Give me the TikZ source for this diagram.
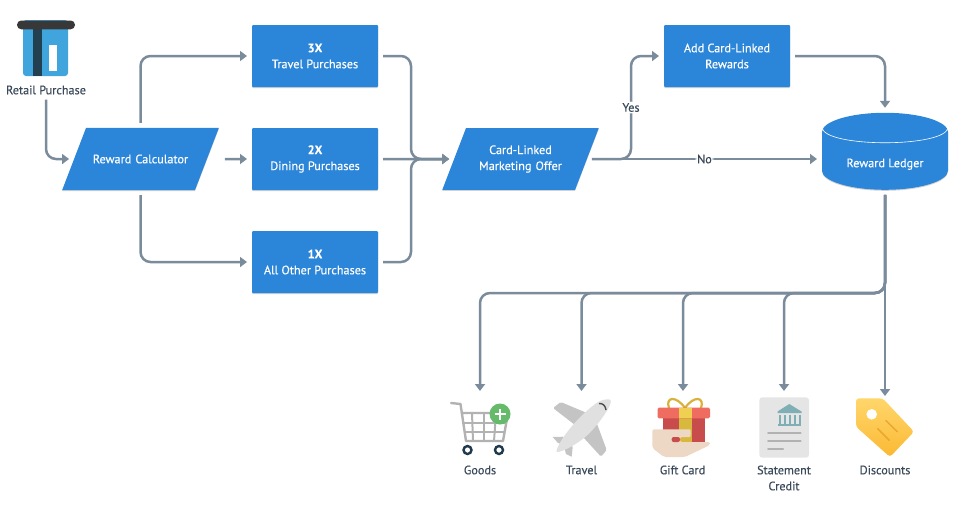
\documentclass[tikz,border=0pt]{standalone}
\usepackage{fontspec}
\setmainfont{PT Sans}[FakeBold=0.25]
\usetikzlibrary{%
  arrows.meta,%
  positioning,%
  shapes.geometric,%
  shadows
}
\definecolor{blockblue}{HTML}{2B85D8}
\definecolor{linkgray}{HTML}{7A8B9C}
\definecolor{inktext}{HTML}{3B4A5A}
\tikzset{
  softshadow/.style={drop shadow={shadow xshift=0pt,shadow yshift=-1pt,opacity=.18,fill=black}},
  block/.style={rectangle,fill=blockblue,text=white,minimum width=126pt,minimum height=62pt,
    inner sep=0pt,outer sep=0pt,align=center,rounded corners=1pt,font=\fontsize{12.2}{16}\selectfont,softshadow},
  slant/.style={trapezium,trapezium left angle=69,trapezium right angle=111,
    fill=blockblue,text=white,text width=109pt,inner xsep=0pt,outer sep=0pt,
    align=center,font=\fontsize{12.2}{16}\selectfont,softshadow},
  drum/.style={cylinder,shape border rotate=90,aspect=.5,fill=blockblue,text=white,minimum width=126pt,
    minimum height=77pt,inner sep=0pt,outer sep=0pt,font=\fontsize{12.2}{16}\selectfont,softshadow},
  caption/.style={text=inktext,align=center,inner sep=0pt,font=\fontsize{12.2}{16}\selectfont},
  link/.style={draw=linkgray,line width=2.5pt,rounded corners=10pt,shorten >=5pt,shorten <=5pt,
    -{Triangle[length=7pt,width=10pt]}},
  choice/.style={fill=white,text=inktext,inner sep=1.5pt,font=\fontsize{12.2}{16}\selectfont}
}
\begin{document}
\begin{tikzpicture}[x=1pt,y=-1pt]
  \useasboundingbox (0,0) rectangle (960,512);

  %blocks
  \node[block] (travel3x) at (315,56) {\textbf{3X}\\Travel Purchases};
  \node[block] (dining2x) [below=41pt of travel3x] {\textbf{2X}\\Dining Purchases};
  \node[block] (other1x) [below=41pt of dining2x] {\textbf{1X}\\All Other Purchases};
  \node[block] (addrewards) at (727,56) {Add Card-Linked\\Rewards};
  \node[slant,inner ysep=26.6pt] (calculator) at (140.5,159) {Reward Calculator};
  \node[slant,inner ysep=17.3pt] (offer) at (520.5,159) {Card-Linked\\Marketing Offer};
  \node[drum] (ledger) at (885,161) {\rule{0pt}{15pt}Reward Ledger};
  \draw[white,line width=.6pt] (822,127) .. controls (822,148) and (948,148) .. (948,127);

  %captions
  \node[caption] (retail) at (46,90) {Retail Purchase};
  \node[caption] (goods) at (480,470) {Goods};
  \node[caption] (trip) at (581.5,470) {Travel};
  \node[caption] (gift) at (682.5,470) {Gift Card};
  \node[caption] (statement) at (784,478) {Statement\\Credit};
  \node[caption] (discounts) at (885,470) {Discounts};

  %free ends and bends
  \coordinate (merge) at (411,159);
  \coordinate (yesbend) at (631,56);
  \coordinate (goodsbus) at (480,293);
  \coordinate (tripbus) at (581.5,293);
  \coordinate (giftbus) at (683,293);
  \coordinate (statementbus) at (784,293);
  \coordinate (goodsin) at (480,396);
  \coordinate (tripin) at (581.5,396);
  \coordinate (giftin) at (683,396);
  \coordinate (statementin) at (784,396);
  \coordinate (discountsin) at (885,401);

  %left part
  \draw[link] (retail.south) |- (calculator.west);
  \draw[link] (calculator.north) |- (travel3x.west);
  \draw[link] (calculator.south) |- (other1x.west);
  \draw[link,shorten <=18pt] (calculator.east) -- (dining2x.west);
  \draw[link] (travel3x.east) -| (merge) -- (offer.west);
  \draw[link] (other1x.east) -| (merge) -- (offer.west);
  \draw[link] (dining2x.east) -- (offer.west);

  %right part
  \draw[link] (offer.east) -| (yesbend) node[choice,pos=.75] (yes) {Yes} -- (addrewards.west);
  \draw[link] (offer.east) -- (offer.east -| ledger.west) node[choice,midway] (no) {No};
  \draw[link] (addrewards.east) -| (ledger.north);

  %payout
  \draw[link] (ledger.south) |- (goodsbus) -- (goodsin);
  \draw[link] (ledger.south) |- (tripbus) -- (tripin);
  \draw[link] (ledger.south) |- (giftbus) -- (giftin);
  \draw[link] (ledger.south) |- (statementbus) -- (statementin);
  \draw[link] (ledger.south) -- (discountsin);

  %card
  \fill[fill={rgb,255:red,65;green,165;blue,221},rounded corners=3pt] (23,20) -- (23,76) -- (68,76) -- (68,20) -- cycle;
  \fill[fill={rgb,255:red,34;green,64;blue,79}] (32.7,24) rectangle (41.7,76);
  \fill[white] (49.3,45) rectangle (56.7,70.7);
  \fill[fill=black!78,rounded corners=4.3pt] (17,20.5) rectangle (75,29.3);

  %cart
  \draw[black!30,line width=2.4pt,line cap=round,line join=round] (451,403) -- (460.5,404) -- (466,441) -- (503,441) -- (508,413) -- (461.5,413);
  \foreach \xa/\xb in {472/473,484/484,496/494}
    \draw[black!30,line width=2pt] (\xa,413) -- (\xb,441);
  \draw[black!30,line width=2pt] (463,422.5) -- (506,422.5) (464.5,432) -- (504.5,432);
  \draw[fill=white,draw={rgb,255:red,31;green,58;blue,77},line width=2.4pt] (467.5,450) circle (4) (499,450) circle (4);
  \fill[fill={rgb,255:red,102;green,187;blue,106}] (500,414) circle (10.5);
  \draw[white,line width=2.2pt] (494.5,414) -- (505.5,414) (500,408.5) -- (500,419.5);

  %plane
  \fill[black!23,rounded corners=1.5pt] (553,408) -- (560.7,402) -- (587,413) -- (575,425) -- cycle;
  \fill[black!23,rounded corners=1.5pt] (596.7,423) -- (606.7,450) -- (601,456.7) -- (583,437) -- cycle;
  \fill[black!23] (552.7,437) -- (563,436.7) -- (568,446) -- (558,443) -- cycle;
  \fill[black!23] (572.7,446.7) -- (571.7,456.7) -- (566,454) -- (563,443) -- cycle;
  \fill[black!12] (556.5,452) .. controls (556,447) and (566,432) .. (577.7,419.7) .. controls (585,412) and (597,401) .. (603,400) .. controls (609,398.5) and (611,399) .. (610.8,402) .. controls (610,408) and (600,422) .. (590.3,432.3) .. controls (580,443) and (561,453) .. (556.5,452);
  \draw[black!70,line width=1.4pt] (599,403.5) .. controls (603,403) and (605.5,406) .. (606,410);

  %gift
  \draw[draw={rgb,255:red,217;green,178;blue,60},line width=2.2pt] (685,408) .. controls (676,395) and (665,397) .. (669,408) (685,408) .. controls (694,395) and (705,397) .. (701,408);
  \fill[fill={rgb,255:red,201;green,76;blue,76}] (662.7,418) rectangle (705,441.7);
  \fill[fill={rgb,255:red,217;green,185;blue,61}] (678.7,418) rectangle (691.7,441.7);
  \fill[fill={rgb,255:red,239;green,108;blue,96},rounded corners=1.5pt] (657.5,407.7) rectangle (710,418.3);
  \fill[fill={rgb,255:red,240;green,208;blue,80}] (678.7,407.7) rectangle (691.7,418.3);
  \fill[fill={rgb,255:red,236;green,216;blue,196},rounded corners=2pt] (652.3,429.3) -- (688,429.3) .. controls (691,429.3) and (691,437) .. (688,437) -- (680,437) -- (680,442) -- (710,442) -- (710,445) -- (685,457) -- (664,457) -- (652.3,448) -- cycle;
  \fill[fill={rgb,255:red,201;green,76;blue,76},rounded corners=2pt] (671.7,437) rectangle (680,442);

  %statement
  \fill[fill=black!10,rounded corners=3pt] (759.3,397.3) rectangle (809,457.7);
  \fill[fill={rgb,255:red,128;green,174;blue,181}] (777.5,413) -- (777.5,411.5) -- (789.3,404) -- (801.5,411.5) -- (801.5,413) -- cycle;
  \foreach \xa in {780,785,790,795,799.5}
    \fill[fill={rgb,255:red,128;green,174;blue,181}] (\xa-1,415) rectangle (\xa+1,424);
  \fill[fill={rgb,255:red,128;green,174;blue,181}] (777.7,424) rectangle (801,426);
  \draw[black!30,line width=2pt,line cap=round] (768,432.7) -- (800.5,432.7) (768,440.7) -- (800.5,440.7) (768,448.7) -- (783,448.7);

  %tag
  \shade[top color={rgb,255:red,255;green,214;blue,107},bottom color={rgb,255:red,251;green,185;blue,51},rounded corners=3pt] (856,398.3) -- (882.7,398.3) -- (914,431.7) -- (890,457) -- (856,426.7) -- cycle;
  \fill[white] (871.7,414.3) circle (5.3);
  \draw[draw={rgb,255:red,234;green,169;blue,46},line width=1.5pt,line cap=round] (886,420.7) -- (897.3,431.7) (877.7,428.7) -- (889.3,440.3);
\end{tikzpicture}
\end{document}
